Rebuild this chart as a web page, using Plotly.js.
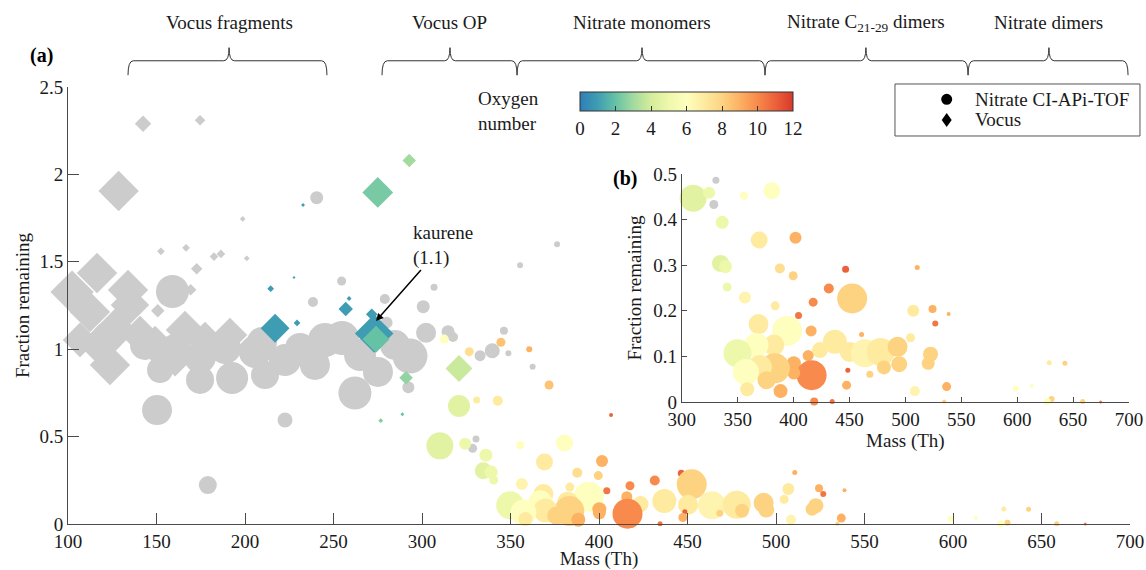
<!DOCTYPE html>
<html><head><meta charset="utf-8">
<script src="https://cdn.plot.ly/plotly-3.0.1.min.js"></script>
<style>html,body{margin:0;padding:0;background:#fff}#chart{width:1146px;height:570px}</style>
</head><body><div id="chart"></div>
<script>
// ---------- DATA ----------
// Vocus, no oxygen assignment (grey diamonds): mass, fraction remaining, signal size
const vocGreyMass = [142.4,174.6,128.6,152.5,166.7,182.5,186.4,172.7,198.7,201,169.3,150.7,
  102.3,116.4,112.4,126.6,133.9,135,118.1,123.7,140.7,149.2,166.1,177.4,191.5,202.8,160.5,106.8];
const vocGreyFrac = [2.29,2.31,1.905,1.56,1.58,1.53,1.545,1.46,1.745,1.52,1.34,1.22,
  1.327,1.436,1.213,1.11,1.339,1.253,1.024,0.91,1.081,1.024,1.11,1.053,1.081,0.995,0.938,1.053];
const vocGreySize = [17,11,42,8,8,9,9,12,6,6,12,14,
  45,42,42,44,42,40,44,42,40,40,40,38,36,32,34,36];

// Vocus oxidation products (coloured diamonds)
const vocMass = [214.5,217,232.8,227.7,229.4,256.9,258.8,271.6,273,274,275,292.8,320.9,291,276.7,288.9];
const vocFrac = [1.346,1.12,1.825,1.41,1.15,1.23,1.29,1.2,1.09,1.057,1.897,2.08,0.89,0.837,0.591,0.628];
const vocSize = [7,30,4,3,7,15,5,12,40,28,32,14,28,14,5,4];
const vocOxy  = [1,1,1,1,1,1,1,1,1,2,2.3,3,3.8,2.7,2.5,2];

// Nitrate CI-APi-TOF, no oxygen assignment (grey circles)
const nitGreyMass = [240.5,254.6,238.4,306.8,279,300.7,280,302.3,314.7,317.5,332.8,339.7,348.8,346.3,362.5,292.3,330.5,328.6,150.3,179,222.6,159,355.4,376.3,
  143.5,160.5,174.6,188.7,192.7,205.6,209.6,222.6,231.1,239.5,245.2,254.8,262.1,265,275.1,284.7,293.2,211.3,174.6,152];
const nitGreyFrac = [1.867,1.39,1.27,1.354,1.287,1.243,1.152,1.094,1.10,1.07,0.963,0.991,0.977,1.106,0.9,0.782,0.486,0.433,0.652,0.223,0.595,1.33,1.48,1.6,
  1.024,0.995,0.955,1.007,0.835,0.984,1.041,0.938,1.007,0.91,1.053,1.064,0.749,0.967,0.87,1.024,0.961,0.852,0.824,0.881];
const nitGreySize = [13,9,10,7,10,13,12,20,13,10,11,15,6,8,6,12,7,9,30,18,15,33,6,6,
  30,32,32,32,32,32,30,32,30,30,34,34,33,32,30,30,35,28,28,26];

// Nitrate CI-APi-TOF with oxygen number (coloured circles)
const nitMass = [312.6,326.7,344.6,360.6,371.8,406.8,320.9,330.9,342.8,
  310.1,324.4,355.5,380.5,336.1,369.2,401.7,334.6,339.1,387.7,399.6,446.5,340.5,431.5,452.4,356.4,417.5,383.5,404.4,368.6,394.2,415.7,460.8,382.3,366.8,349.8,436.9,423.5,450.3,463.8,477.8,493,504.6,507,494.5,480.8,468.2,448.5,400.2,413,416.1,400.2,383.2,369.8,357.3,375.8,388.3,358.5,447.4,418.4,434.5,510.6,508.5,524.3,538.7,526.7,522.5,520.4,536.9,534.7,598.6,612.9,628.7,642.7,630.8,626.9,658.6,674.7];
const nitFrac = [1.058,0.986,1.04,0.999,0.795,0.624,0.675,0.709,0.705,
  0.447,0.459,0.452,0.463,0.394,0.355,0.36,0.304,0.297,0.293,0.277,0.291,0.252,0.249,0.227,0.229,0.219,0.211,0.19,0.171,0.156,0.156,0.148,0.125,0.125,0.107,0.132,0.114,0.110,0.107,0.110,0.121,0.141,0.2,0.083,0.076,0.061,0.07,0.085,0.102,0.059,0.064,0.074,0.077,0.066,0.048,0.024,0.028,0.037,0.001,0.001,0.295,0.024,0.204,0.193,0.172,0.105,0.085,0.034,0.001,0.030,0.036,0.086,0.085,0.007,0.001,0.001,0.0];
const nitSize = [9,9,9,6,9,4,22,7,10,
  27,12,8,17,13,17,12,17,13,10,9,7,9,10,30,12,9,9,7,20,30,11,5,21,24,28,24,16,20,28,28,20,9,12,16,14,7,5,14,11,30,13,30,24,26,18,14,14,9,8,5,5,10,8,4,6,15,13,9,4,6,4,5,5,6,7,5,3];
const nitOxy = [6,7.5,8.5,9,8.5,11,4.5,7,7,
  4.5,5,6,6,5,7,9,4.5,5,7.5,8,11,5,10,8,6.5,10,7,10.5,7,6,9,9,7,6,5,7,7,7,6.5,7,8,7,7,8,8,8,11,9,9,10,9,8,7,6,8,9,7,9,10,10.5,9,6.5,9,9,10.5,8,8,9,8,6,6,7,8,8,6,8,10.5];

// Compound-group brackets along the top (mass ranges)
const groupNames = ['Vocus fragments','Vocus OP','Nitrate monomers','Nitrate C<sub>21-29</sub> dimers','Nitrate dimers'];
const groupStart = [133.9,277.4,353.7,493.8,608.5];
const groupEnd   = [246.3,353.7,493.8,608.5,698.9];
const groupMid   = [191,315.8,424.3,550.8,654.2];

const oxyTicks = [0,2,4,6,8,10,12];
const massTicks = [100,150,200,250,300,350,400,450,500,550,600,650,700];
const insetMassTicks = [300,350,400,450,500,550,600,650,700];

// ---------- STYLE ----------
const FONT = '"Liberation Serif", "Times New Roman", serif';
const TXT = '#1a1a1a';
const AX = '#4a4a4a';
const GREY = '#cccccc';
const cscale = [[0,'#2f7fb6'],[0.0833,'#3f9db3'],[0.1667,'#66c2a5'],[0.25,'#a3daa0'],[0.3333,'#d3ed9b'],[0.4167,'#eef8ab'],[0.5,'#fefebe'],[0.5833,'#feeba0'],[0.6667,'#fdd382'],[0.75,'#fcb163'],[0.8333,'#f78a4c'],[0.9167,'#ec613b'],[1,'#d73a2b']];
const DIA = 0.74; // diamond height -> plotly marker size

function filt(xs, ys, ss, cs){
  const o={x:[],y:[],s:[],c:[]};
  xs.forEach((x,i)=>{ if(x>=300 && ys[i]<=0.5){o.x.push(x);o.y.push(ys[i]);o.s.push(ss[i]); if(cs) o.c.push(cs[i]);} });
  return o;
}

const traces = [];
traces.push({type:'scatter',mode:'markers',x:vocGreyMass,y:vocGreyFrac,cliponaxis:false,hoverinfo:'skip',showlegend:false,
  marker:{symbol:'diamond',color:GREY,opacity:1,size:vocGreySize.map(s=>s*DIA),line:{width:0}}});
traces.push({type:'scatter',mode:'markers',x:nitGreyMass,y:nitGreyFrac,cliponaxis:false,hoverinfo:'skip',showlegend:false,
  marker:{symbol:'circle',color:GREY,opacity:1,size:nitGreySize,line:{width:0}}});
traces.push({type:'scatter',mode:'markers',x:nitMass,y:nitFrac,cliponaxis:false,hoverinfo:'skip',showlegend:false,
  marker:{symbol:'circle',color:nitOxy,cmin:0,cmax:12,colorscale:cscale,size:nitSize,opacity:1,line:{width:0},
    showscale:true,
    colorbar:{orientation:'h',x:0.5824,xanchor:'center',y:0.9886,yanchor:'top',len:0.2006,lenmode:'fraction',thickness:19,
      xpad:0,ypad:0,outlinecolor:'#333',outlinewidth:1,ticks:'inside',ticklen:5,tickcolor:'#333',
      tickvals:oxyTicks,ticktext:oxyTicks.map(String),tickfont:{family:FONT,size:19,color:TXT}}}});
traces.push({type:'scatter',mode:'markers',x:vocMass,y:vocFrac,cliponaxis:false,hoverinfo:'skip',showlegend:false,
  marker:{symbol:'diamond',color:vocOxy,cmin:0,cmax:12,colorscale:cscale,opacity:1,size:vocSize.map(s=>s*DIA),line:{width:0},showscale:false}});

// inset
const gI = filt(nitGreyMass,nitGreyFrac,nitGreySize);
const cI = filt(nitMass,nitFrac,nitSize,nitOxy);
traces.push({type:'scatter',mode:'markers',xaxis:'x2',yaxis:'y2',x:gI.x,y:gI.y,cliponaxis:false,hoverinfo:'skip',showlegend:false,
  marker:{symbol:'circle',color:GREY,opacity:1,size:gI.s,line:{width:0}}});
traces.push({type:'scatter',mode:'markers',xaxis:'x2',yaxis:'y2',x:cI.x,y:cI.y,cliponaxis:false,hoverinfo:'skip',showlegend:false,
  marker:{symbol:'circle',color:cI.c,cmin:0,cmax:12,colorscale:cscale,opacity:1,size:cI.s,line:{width:0},showscale:false}});

// brackets
const yE=1.027, yL=1.060, yP=1.090, d=3;
const shapes = groupNames.map((n,i)=>{
  const x0=groupStart[i], x1=groupEnd[i], xm=groupMid[i];
  return {type:'path',xref:'x',yref:'paper',line:{color:'#333',width:1},
    path:`M${x0},${yE} Q${x0},${yL} ${x0+d},${yL} L${xm-d},${yL} Q${xm},${yL} ${xm},${yP} Q${xm},${yL} ${xm+d},${yL} L${x1-d},${yL} Q${x1},${yL} ${x1},${yE}`};
});
// legend box and symbols
shapes.push({type:'rect',xref:'paper',yref:'paper',x0:0.7787,x1:1.0094,y0:0.8879,y1:1.0069,line:{color:'#555',width:1},fillcolor:'#fff'});
shapes.push({type:'circle',xref:'paper',yref:'paper',x0:0.8222,x1:0.8326,y0:0.9593,y1:0.9844,line:{width:0},fillcolor:'#000'});
shapes.push({type:'path',xref:'paper',yref:'paper',path:'M0.8274,0.9405 L0.8321,0.9245 L0.8274,0.9085 L0.8227,0.9245 Z',line:{width:0},fillcolor:'#000'});

const annotations = groupNames.map((n,i)=>({text:n,x:groupMid[i],xref:'x',y:1.147,yref:'paper',showarrow:false,
  font:{family:FONT,size:19,color:TXT},xanchor:'center',yanchor:'middle'}));
annotations.push({text:'<b>(a)</b>',xref:'paper',yref:'paper',x:-0.0377,y:1.103,showarrow:false,font:{family:FONT,size:20,color:'#000'}});
annotations.push({text:'<b>(b)</b>',xref:'paper',yref:'paper',x:0.5245,y:0.8215,showarrow:false,font:{family:FONT,size:20,color:'#000'}});
annotations.push({text:'Oxygen<br>number',xref:'paper',yref:'paper',x:0.3842,y:0.945,xanchor:'left',yanchor:'middle',align:'left',showarrow:false,font:{family:FONT,size:19,color:TXT}});
annotations.push({text:'Nitrate CI-APi-TOF',xref:'paper',yref:'paper',x:0.8522,y:0.9725,xanchor:'left',yanchor:'middle',showarrow:false,font:{family:FONT,size:19,color:TXT}});
annotations.push({text:'Vocus',xref:'paper',yref:'paper',x:0.8522,y:0.9245,xanchor:'left',yanchor:'middle',showarrow:false,font:{family:FONT,size:19,color:TXT}});
annotations.push({text:'kaurene<br>(1.1)',x:274,y:1.161,xref:'x',yref:'y',ax:67,ay:-76,showarrow:true,arrowhead:2,arrowsize:1,arrowwidth:1.5,arrowcolor:'#000',
  align:'left',font:{family:FONT,size:19,color:TXT}});

const axBase = {showline:true,linecolor:AX,linewidth:1,ticks:'inside',tickcolor:AX,showgrid:false,zeroline:false,
  tickfont:{family:FONT,size:19,color:TXT},mirror:false};

const layout = {
  width:1146,height:570,paper_bgcolor:'#fff',plot_bgcolor:'rgba(0,0,0,0)',
  margin:{l:68,r:16,t:87,b:46},showlegend:false,
  font:{family:FONT,color:TXT,size:19},
  xaxis:Object.assign({},axBase,{domain:[0,1],range:[100,700],tickvals:massTicks,ticklen:11,anchor:'y',
    title:{text:'Mass (Th)',font:{family:FONT,size:19,color:TXT},standoff:0}}),
  yaxis:Object.assign({},axBase,{domain:[0,1],range:[0,2.5],dtick:0.5,tick0:0,ticklen:11,anchor:'x',
    title:{text:'Fraction remaining',font:{family:FONT,size:19,color:TXT},standoff:4}}),
  xaxis2:Object.assign({},axBase,{domain:[0.578,0.999],range:[300,700],tickvals:insetMassTicks,ticklen:5,anchor:'y2',
    title:{text:'Mass (Th)',font:{family:FONT,size:19,color:TXT},standoff:0}}),
  yaxis2:Object.assign({},axBase,{domain:[0.279,0.801],range:[0,0.5],dtick:0.1,tick0:0,ticklen:5,anchor:'x2',
    title:{text:'Fraction remaining',font:{family:FONT,size:19,color:TXT},standoff:6}}),
  shapes:shapes,annotations:annotations
};

Plotly.newPlot('chart',traces,layout,{staticPlot:true,displayModeBar:false});
</script></body></html>
